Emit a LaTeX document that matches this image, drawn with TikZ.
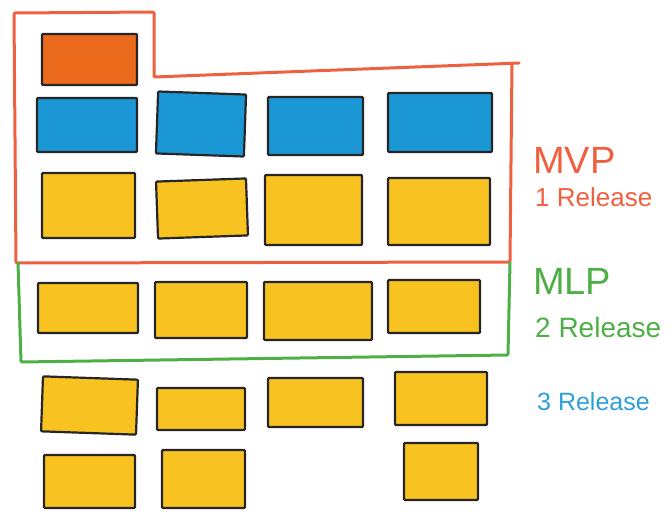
\documentclass[tikz,border=0pt]{standalone}
\usepackage{fontspec}
\setmainfont{Liberation Sans}
\definecolor{cardorange}{HTML}{EC6A1C}
\definecolor{cardblue}{HTML}{1B97D5}
\definecolor{cardyellow}{HTML}{F8C220}
\definecolor{mvpred}{HTML}{EE6040}
\definecolor{mlpgreen}{HTML}{4DAF45}
\definecolor{relblue}{HTML}{2E9FDA}
\begin{document}
\begin{tikzpicture}[x=1pt,y=-1pt,
  card/.style={draw=black!85,line width=2.2pt,rounded corners=1pt,inner sep=0pt},
  oc/.style={card,fill=cardorange},
  bc/.style={card,fill=cardblue},
  yc/.style={card,fill=cardyellow},
  outline/.style={line width=3pt,line join=round,rounded corners=1pt},
  lbl/.style={anchor=west,inner sep=0pt}]
\useasboundingbox (0,0) rectangle (672,514);
% MVP outline
\draw[outline,draw=mvpred] (14,13) -- (154,12) -- (154,77) -- (520,63) -- (512,63) -- (510,262) -- (16,263) -- cycle;
% MLP outline
\draw[outline,draw=mlpgreen] (18,262) -- (21,362) -- (508,355) -- (510,262);
% row 0
\node[oc,minimum width=95pt,minimum height=51pt] (o1) at (89.5,59.5) {};
% row 1
\node[bc,minimum width=100pt,minimum height=54pt] (b1) at (87,125) {};
\node[bc,minimum width=88pt,minimum height=62pt,rotate=-2] (b2) at (201,124) {};
\node[bc,minimum width=95pt,minimum height=58pt] (b3) at (315.5,126) {};
\node[bc,minimum width=104pt,minimum height=59pt] (b4) at (440,122.5) {};
% row 2
\node[yc,minimum width=93pt,minimum height=65pt] (y1) at (88.5,205.5) {};
\node[yc,minimum width=90pt,minimum height=57pt,rotate=2] (y2) at (202,208.5) {};
\node[yc,minimum width=97pt,minimum height=70pt] (y3) at (313.5,210) {};
\node[yc,minimum width=102pt,minimum height=67pt] (y4) at (439,211.5) {};
% row 3
\node[yc,minimum width=100pt,minimum height=50pt] (m1) at (88,308) {};
\node[yc,minimum width=92pt,minimum height=56pt] (m2) at (201,310) {};
\node[yc,minimum width=108pt,minimum height=58pt] (m3) at (318,311) {};
\node[yc,minimum width=92pt,minimum height=53pt] (m4) at (434,306.5) {};
% row 4
\node[yc,minimum width=95pt,minimum height=55pt,rotate=-2] (r1) at (89.5,405.5) {};
\node[yc,minimum width=88pt,minimum height=42pt] (r2) at (201,409) {};
\node[yc,minimum width=95pt,minimum height=49pt] (r3) at (315.5,402.5) {};
\node[yc,minimum width=92pt,minimum height=53pt] (r4) at (441,398.5) {};
% row 5
\node[yc,minimum width=91pt,minimum height=53pt] (s1) at (89.5,481.5) {};
\node[yc,minimum width=83pt,minimum height=58pt] (s2) at (203.5,479) {};
\node[yc,minimum width=74pt,minimum height=57pt] (s4) at (441,471.5) {};
% labels
\node[lbl,text=mvpred,font=\fontsize{38}{38}\selectfont] (mvp) at (533,160) {MVP};
\node[lbl,text=mvpred,font=\fontsize{26}{26}\selectfont] (rel1) at (535,197) {1 Release};
\node[lbl,text=mlpgreen,font=\fontsize{38}{38}\selectfont] (mlp) at (533,281) {MLP};
\node[lbl,text=mlpgreen,font=\fontsize{28}{28}\selectfont] (rel2) at (535,327) {2 Release};
\node[lbl,text=relblue,font=\fontsize{25}{25}\selectfont] (rel3) at (537,402) {3 Release};
\end{tikzpicture}
\end{document}
